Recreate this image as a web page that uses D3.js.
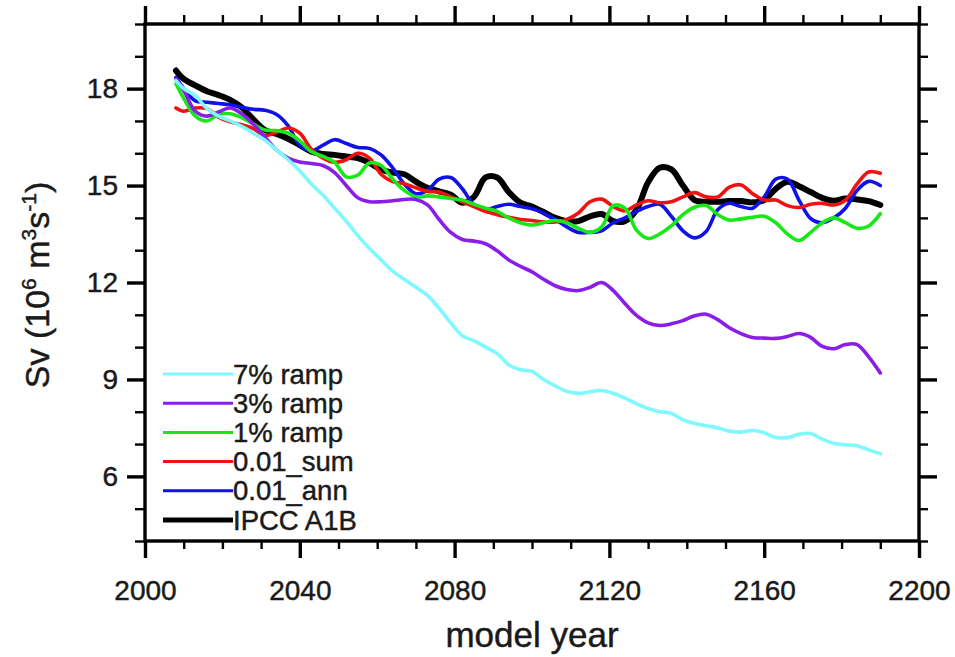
<!DOCTYPE html>
<html>
<head>
<meta charset="utf-8">
<script src="https://d3js.org/d3.v7.min.js"></script>
<style>
  html, body { margin: 0; padding: 0; background: #fff; }
  svg { display: block; }
  text { font-family: "Liberation Sans", Arial, Helvetica, sans-serif; fill: #1a1a1a; stroke: #1a1a1a; stroke-width: 0.45px; }
</style>
</head>
<body>
<svg id="chart" width="955" height="657"></svg>
<script>
// Model years sampled for every run
const years = [2008, 2010, 2013, 2016, 2019, 2022, 2025, 2028, 2031, 2034,
  2037, 2040, 2043, 2046, 2049, 2052, 2055, 2058, 2061, 2064,
  2067, 2070, 2073, 2076, 2079, 2082, 2085, 2088, 2091, 2094,
  2097, 2100, 2103, 2106, 2109, 2112, 2115, 2118, 2121, 2124,
  2127, 2130, 2133, 2136, 2139, 2142, 2145, 2148, 2151, 2154,
  2157, 2160, 2163, 2166, 2169, 2172, 2175, 2178, 2181, 2184,
  2187, 2190];

// Overturning transport (Sv) per run
const ramp7 = [18.25, 18.0, 17.78, 17.38, 17.15, 17.0, 16.83, 16.62, 16.4, 16.1,
  15.8, 15.45, 15.05, 14.7, 14.3, 13.9, 13.45, 13.05, 12.7, 12.35,
  12.1, 11.85, 11.6, 11.2, 10.75, 10.35, 10.2, 10.0, 9.8, 9.45,
  9.3, 9.25, 9.0, 8.8, 8.63, 8.57, 8.62, 8.66, 8.57, 8.42,
  8.25, 8.1, 8.0, 7.95, 7.75, 7.64, 7.57, 7.5, 7.4, 7.37,
  7.42, 7.35, 7.2, 7.2, 7.3, 7.33, 7.15, 7.02, 6.98, 6.95,
  6.82, 6.7];

const ramp3 = [18.3, 17.95, 17.3, 17.15, 17.28, 17.4, 17.22, 16.9, 16.5, 16.1,
  15.85, 15.73, 15.68, 15.62, 15.4, 15.0, 14.62, 14.5, 14.5, 14.53,
  14.57, 14.57, 14.4, 13.95, 13.55, 13.33, 13.28, 13.2, 12.98, 12.7,
  12.5, 12.33, 12.1, 11.9, 11.78, 11.75, 11.85, 12.0, 11.75, 11.35,
  10.98, 10.75, 10.67, 10.72, 10.82, 10.97, 11.02, 10.85, 10.6, 10.42,
  10.3, 10.28, 10.27, 10.33, 10.42, 10.3, 10.02, 9.95, 10.08, 10.08,
  9.7, 9.2];

const ramp1 = [18.15, 17.7, 17.15, 17.0, 17.2, 17.22, 17.1, 16.9, 16.72, 16.7,
  16.62, 16.38, 16.05, 15.9, 15.72, 15.27, 15.32, 15.7, 15.62, 15.2,
  14.85, 14.65, 14.68, 14.65, 14.6, 14.55, 14.42, 14.3, 14.2, 14.0,
  13.85, 13.78, 13.85, 13.92, 13.85, 13.68, 13.55, 13.72, 14.38, 14.3,
  13.62, 13.36, 13.5, 13.75, 14.1, 14.33, 14.38, 14.1, 13.93, 13.97,
  14.02, 14.05, 13.85, 13.5, 13.3, 13.55, 13.85, 14.0, 13.85, 13.68,
  13.75, 14.13];

const sum001 = [17.4, 17.3, 17.4, 17.38, 17.12, 16.97, 16.88, 16.76, 16.55, 16.65,
  16.78, 16.62, 16.12, 15.85, 15.72, 15.8, 16.0, 15.85, 15.35, 15.12,
  15.06, 14.93, 14.82, 14.8, 14.65, 14.5, 14.35, 14.2, 14.1, 14.02,
  13.95, 13.92, 13.87, 13.87, 13.95, 14.15, 14.5, 14.58, 14.35, 14.22,
  14.4, 14.53, 14.47, 14.5, 14.65, 14.78, 14.65, 14.65, 14.95, 15.02,
  14.75, 14.55, 14.55, 14.38, 14.32, 14.42, 14.45, 14.4, 14.55, 15.05,
  15.42, 15.38];

const ann001 = [18.35, 18.0, 17.62, 17.58, 17.54, 17.5, 17.42, 17.36, 17.33, 17.2,
  16.85, 16.25, 16.08, 16.25, 16.42, 16.3, 16.18, 16.15, 15.95, 15.55,
  15.05, 14.75, 14.85, 15.2, 15.25, 14.9, 14.4, 14.25, 14.35, 14.42,
  14.35, 14.28, 14.15, 13.95, 13.72, 13.55, 13.55, 13.6, 13.85, 14.0,
  14.2, 14.35, 14.42, 14.05, 13.6, 13.38, 13.58, 14.25, 14.45, 14.35,
  14.3, 14.65, 15.2, 15.2, 14.55, 13.98, 13.85, 14.0, 14.3, 14.85,
  15.13, 15.0];

const a1b = [18.56, 18.3, 18.1, 17.92, 17.8, 17.65, 17.42, 17.05, 16.72, 16.6,
  16.45, 16.25, 16.05, 15.98, 15.95, 15.9, 15.85, 15.7, 15.5, 15.4,
  15.35, 15.12, 14.93, 14.82, 14.72, 14.47, 14.65, 15.25, 15.25, 14.8,
  14.47, 14.35, 14.18, 14.0, 13.9, 13.9, 14.05, 14.12, 13.9, 13.9,
  14.25, 15.1, 15.55, 15.5, 15.0, 14.55, 14.5, 14.5, 14.52, 14.52,
  14.48, 14.55, 14.9, 15.12, 14.98, 14.8, 14.62, 14.53, 14.6, 14.57,
  14.52, 14.4];

// Legend entries, top to bottom
const seriesNames = ["7% ramp", "3% ramp", "1% ramp", "0.01_sum", "0.01_ann", "IPCC A1B"];
const seriesValues = [ramp7, ramp3, ramp1, sum001, ann001, a1b];
const seriesColors = ["#80f8ff", "#8a1ee8", "#18e818", "#f21010", "#1010e8", "#000000"];
const seriesWidths = [3.6, 3.6, 3.6, 3.6, 3.6, 6];

// Axis ticks
const xMajor = [2000, 2040, 2080, 2120, 2160, 2200];
const xMinor = [2010, 2020, 2030, 2050, 2060, 2070, 2090, 2100, 2110, 2130, 2140, 2150, 2170, 2180, 2190];
const yMajor = [6, 9, 12, 15, 18];
const yMinor = [4, 5, 7, 8, 10, 11, 13, 14, 16, 17, 19, 20];

const svg = d3.select("#chart");
const plotLeft = 145, plotRight = 919, plotTop = 24, plotBottom = 541;

const x = d3.scaleLinear().domain([2000, 2200]).range([plotLeft, plotRight]);
const y = d3.scaleLinear().domain([4, 20]).range([plotBottom, plotTop]);

const line = d3.line()
  .x(d => x(d[0]))
  .y(d => y(d[1]))
  .curve(d3.curveCatmullRom.alpha(0.5));

// Curves: drawn from the last legend entry up so the ramps sit on top
const plot = svg.append("g");
d3.range(seriesNames.length - 1, -1, -1).forEach(i => {
  plot.append("path")
    .datum(years.map((yr, k) => [yr, seriesValues[i][k]]))
    .attr("d", line)
    .attr("fill", "none")
    .attr("stroke", seriesColors[i])
    .attr("stroke-width", seriesWidths[i])
    .attr("stroke-linejoin", "round")
    .attr("stroke-linecap", "round");
});

// Axes with outward ticks on all four sides
function styleAxis(g, w) {
  g.select(".domain").remove();
  g.selectAll(".tick line").attr("stroke", "#000").attr("stroke-width", w);
}
function styleLabels(g) {
  g.selectAll(".tick text")
    .attr("font-size", 28)
    .attr("fill", "#1a1a1a")
    .attr("font-family", "Liberation Sans, Arial, sans-serif");
}

svg.append("g").attr("transform", `translate(0,${plotBottom})`)
  .call(d3.axisBottom(x).tickValues(xMinor).tickSize(8).tickFormat(""))
  .call(g => styleAxis(g, 2.4));
svg.append("g").attr("transform", `translate(0,${plotBottom})`)
  .call(d3.axisBottom(x).tickValues(xMajor).tickSize(17).tickPadding(22).tickFormat(d3.format("d")))
  .call(g => styleAxis(g, 3.4))
  .call(styleLabels);

svg.append("g").attr("transform", `translate(0,${plotTop})`)
  .call(d3.axisTop(x).tickValues(xMinor).tickSize(9).tickFormat(""))
  .call(g => styleAxis(g, 2.4));
svg.append("g").attr("transform", `translate(0,${plotTop})`)
  .call(d3.axisTop(x).tickValues(xMajor).tickSize(18).tickFormat(""))
  .call(g => styleAxis(g, 3.4));

svg.append("g").attr("transform", `translate(${plotLeft},0)`)
  .call(d3.axisLeft(y).tickValues(yMinor).tickSize(10).tickFormat(""))
  .call(g => styleAxis(g, 2.4));
svg.append("g").attr("transform", `translate(${plotLeft},0)`)
  .call(d3.axisLeft(y).tickValues(yMajor).tickSize(18).tickPadding(9).tickFormat(d3.format("d")))
  .call(g => styleAxis(g, 3.4))
  .call(styleLabels);

svg.append("g").attr("transform", `translate(${plotRight},0)`)
  .call(d3.axisRight(y).tickValues(yMinor).tickSize(9).tickFormat(""))
  .call(g => styleAxis(g, 2.4));
svg.append("g").attr("transform", `translate(${plotRight},0)`)
  .call(d3.axisRight(y).tickValues(yMajor).tickSize(18).tickFormat(""))
  .call(g => styleAxis(g, 3.4));

// Plot frame
svg.append("rect")
  .attr("x", plotLeft).attr("y", plotTop)
  .attr("width", plotRight - plotLeft).attr("height", plotBottom - plotTop)
  .attr("fill", "none").attr("stroke", "#000").attr("stroke-width", 3.4);

// Axis titles
svg.append("text")
  .attr("x", (plotLeft + plotRight) / 2).attr("y", 647)
  .attr("text-anchor", "middle")
  .attr("font-size", 35)
  .text("model year");

const yTitle = svg.append("text")
  .attr("transform", "translate(49,285) rotate(-90)")
  .attr("text-anchor", "middle")
  .attr("font-size", 34);
yTitle.append("tspan").text("Sv (10");
yTitle.append("tspan").attr("font-size", 21).attr("dy", -13).text("6");
yTitle.append("tspan").attr("dy", 13).text(" m");
yTitle.append("tspan").attr("font-size", 21).attr("dy", -13).text("3");
yTitle.append("tspan").attr("dy", 13).text("s");
yTitle.append("tspan").attr("font-size", 21).attr("dy", -13).text("-1");
yTitle.append("tspan").attr("dy", 13).text(")");

// Legend
const legY0 = 374, legStep = 29.2;
const legend = svg.append("g");
seriesNames.forEach((name, i) => {
  const ly = legY0 + i * legStep;
  legend.append("line")
    .attr("x1", 163).attr("x2", 233)
    .attr("y1", ly).attr("y2", ly)
    .attr("stroke", seriesColors[i])
    .attr("stroke-width", i === seriesNames.length - 1 ? 5 : 3);
  legend.append("text")
    .attr("x", 233).attr("y", ly + 9.5)
    .attr("font-size", 27.5)
    .text(name);
});
</script>
</body>
</html>
